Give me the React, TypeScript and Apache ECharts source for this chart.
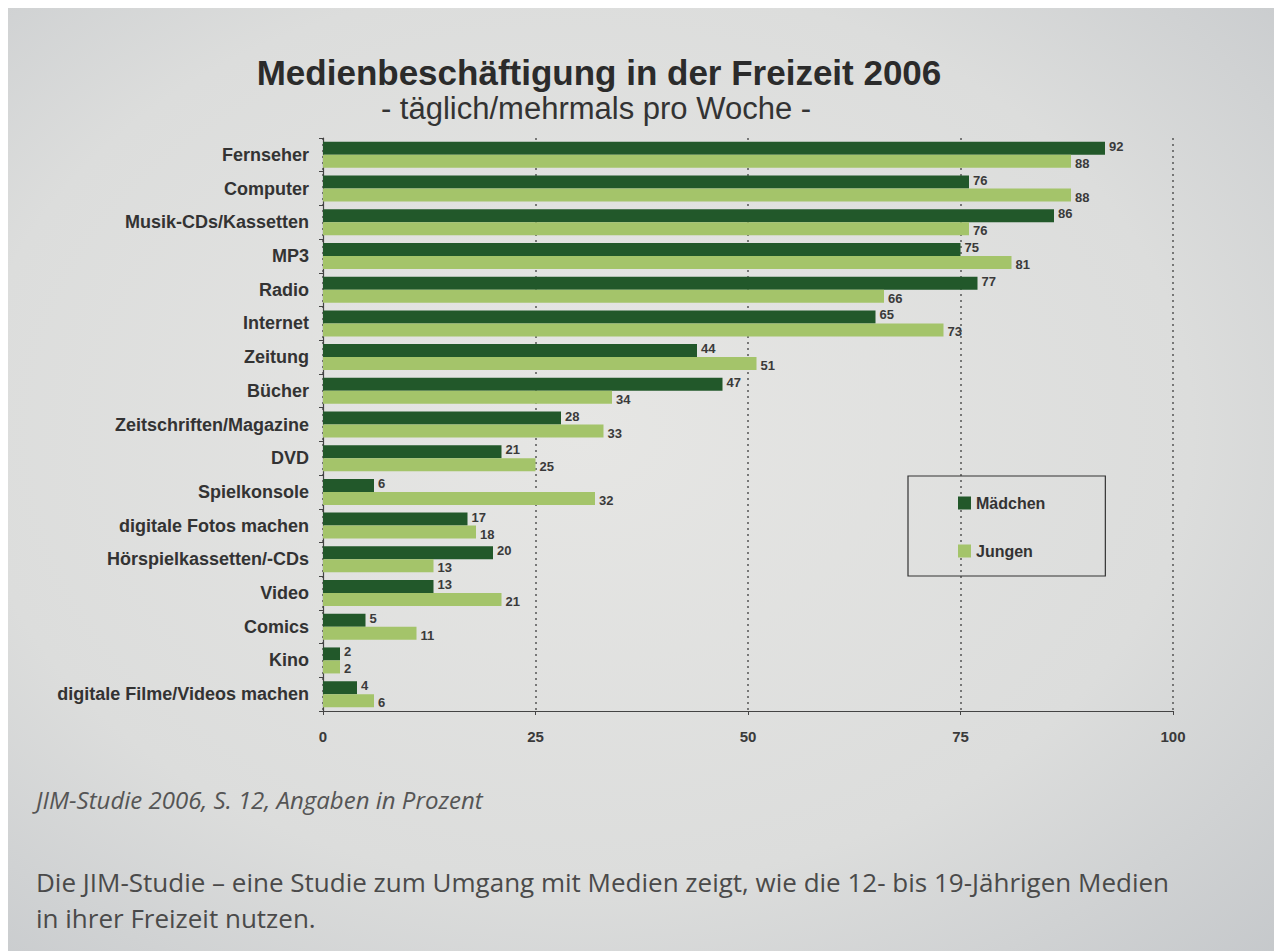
import React, { useEffect, useRef } from "react";
import * as echarts from "echarts";

const categories = [
  "Fernseher",
  "Computer",
  "Musik-CDs/Kassetten",
  "MP3",
  "Radio",
  "Internet",
  "Zeitung",
  "Bücher",
  "Zeitschriften/Magazine",
  "DVD",
  "Spielkonsole",
  "digitale Fotos machen",
  "Hörspielkassetten/-CDs",
  "Video",
  "Comics",
  "Kino",
  "digitale Filme/Videos machen",
];
const maedchen = [92, 76, 86, 75, 77, 65, 44, 47, 28, 21, 6, 17, 20, 13, 5, 2, 4];
const jungen = [88, 88, 76, 81, 66, 73, 51, 34, 33, 25, 32, 18, 13, 21, 11, 2, 6];
const seriesNames = ["Mädchen", "Jungen"];
const titleText = "Medienbeschäftigung in der Freizeit 2006";
const subtitleText = "- täglich/mehrmals pro Woche -";
const sourceText = "JIM-Studie 2006, S. 12, Angaben in Prozent";
const bodyLines = [
  "Die JIM-Studie – eine Studie zum Umgang mit Medien zeigt, wie die 12- bis 19-Jährigen Medien",
  "in ihrer Freizeit nutzen.",
];

const SANS = "'Liberation Sans', Arial, sans-serif";
const BOOK = "'Open Sans', 'Noto Sans', sans-serif";
const DARK = "#22582a";
const LIGHT = "#a4c46a";

export default function App() {
  const ref = useRef<HTMLDivElement>(null);

  useEffect(() => {
    document.documentElement.style.overflow = "hidden";
    const chart = echarts.init(ref.current!, undefined, { renderer: "svg" });
    const labelStyle = (dy: number) => ({
      show: true,
      position: "right" as const,
      distance: 4,
      offset: [0, dy],
      fontFamily: SANS,
      fontSize: 13,
      fontWeight: "bold" as const,
      color: "#3a3a3a",
    });
    chart.setOption({
      animation: false,
      backgroundColor: {
        type: "radial",
        x: 0.45,
        y: 0.45,
        r: 0.8,
        colorStops: [
          { offset: 0, color: "#e6e6e4" },
          { offset: 0.6, color: "#dcdddc" },
          { offset: 1, color: "#c4c7ca" },
        ],
      },
      textStyle: { fontFamily: SANS },
      title: [
        {
          text: titleText,
          left: 586,
          top: 42,
          textAlign: "center",
          textStyle: { fontFamily: SANS, fontSize: 35, fontWeight: "bold", color: "#2b2b2b" },
        },
        {
          text: subtitleText,
          left: 583,
          top: 80,
          textAlign: "center",
          textStyle: { fontFamily: SANS, fontSize: 31, fontWeight: "normal", color: "#333" },
        },
      ],
      legend: {
        data: seriesNames,
        orient: "vertical",
        left: 900,
        top: 468,
        icon: "rect",
        itemWidth: 13,
        itemHeight: 13,
        itemGap: 32,
        padding: [19, 60, 17, 50],
        borderColor: "#333",
        borderWidth: 1.2,
        textStyle: { fontFamily: SANS, fontSize: 16, fontWeight: "bold", color: "#333" },
      },
      grid: { left: 315, top: 130, width: 850, height: 573, containLabel: false },
      xAxis: {
        type: "value",
        min: 0,
        max: 100,
        interval: 25,
        axisLine: { show: true, lineStyle: { color: "#444", width: 1.2 } },
        axisTick: { show: true, length: 4, lineStyle: { color: "#444" } },
        axisLabel: { fontFamily: SANS, fontSize: 15, fontWeight: "bold", color: "#3a3a3a", margin: 18 },
        splitLine: {
          show: true,
          lineStyle: { color: "#555", type: [2, 4], width: 1.5 },
        },
      },
      yAxis: {
        type: "category",
        data: categories,
        inverse: true,
        axisLine: { show: true, lineStyle: { color: "#444", width: 1.2 } },
        axisTick: { show: true, length: 4, lineStyle: { color: "#444" } },
        axisLabel: {
          fontFamily: SANS,
          fontSize: 18,
          fontWeight: "bold",
          color: "#333",
          margin: 14,
        },
      },
      series: [
        {
          name: seriesNames[0],
          type: "bar",
          data: maedchen,
          barWidth: 13,
          barGap: "0%",
          itemStyle: { color: DARK },
          label: labelStyle(-2),
        },
        {
          name: seriesNames[1],
          type: "bar",
          data: jungen,
          barWidth: 13,
          barGap: "0%",
          itemStyle: { color: LIGHT },
          label: labelStyle(2),
        },
      ],
      graphic: [
        {
          type: "text",
          left: 28,
          top: 779,
          style: {
            text: sourceText,
            fontFamily: BOOK,
            fontStyle: "italic",
            fontSize: 24,
            fill: "#555",
          },
        },
        {
          type: "text",
          left: 28,
          top: 856,
          style: {
            text: bodyLines.join("\n"),
            fontFamily: BOOK,
            fontSize: 26,
            lineHeight: 36,
            fill: "#4a4a4a",
          },
        },
      ],
    });
    return () => chart.dispose();
  }, []);

  return <div ref={ref} style={{ width: 1274, height: 943 }} />;
}
